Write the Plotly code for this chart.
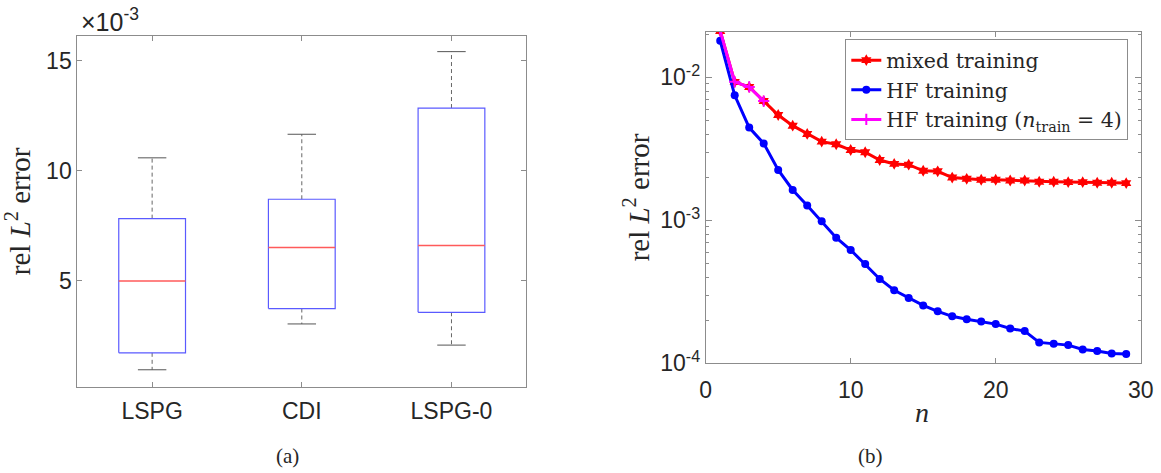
import plotly.graph_objects as go

# ---------------- data ----------------
# (a) box-plot statistics, values in units of 1e-3
methods = ["LSPG", "CDI", "LSPG-0"]
whisker_low = [0.97, 3.05, 2.09]
q1 = [1.74, 3.75, 3.58]
median = [5.00, 6.52, 6.61]
q3 = [7.83, 8.71, 12.85]
whisker_high = [10.59, 11.66, 15.41]

# (b) convergence curves
n = list(range(1, 30))
mixed_training = [0.0211, 0.00928, 0.00856, 0.00682, 0.00545, 0.00459, 0.00402, 0.00355,
                  0.00340, 0.00310, 0.00299, 0.00264, 0.00248, 0.00245, 0.00222, 0.00220,
                  0.00199, 0.00195, 0.00192, 0.00192, 0.00190, 0.00190, 0.00186, 0.00186,
                  0.00185, 0.00185, 0.00183, 0.00183, 0.00182]
hf_training = [0.0180, 0.00748, 0.00445, 0.00345, 0.00225, 0.00163, 0.00127, 0.000984,
               0.000756, 0.000620, 0.000495, 0.000389, 0.000324, 0.000286, 0.000254,
               0.000231, 0.000213, 0.000203, 0.000196, 0.000188, 0.000175, 0.000168,
               0.000140, 0.000137, 0.000134, 0.000125, 0.000122, 0.000117, 0.000116]
n_train4 = [1, 2, 3, 4]
hf_training_4 = [0.0211, 0.00930, 0.00856, 0.00682]

# ---------------- style constants ----------------
W, H = 1161, 473
BOX_W = 0.446
CAP_W = 0.19
AX_COL = "#8c8c8c"
TXT_COL = "#262626"
SANS = "Liberation Sans, Arial, sans-serif"
SERIF = "Liberation Serif, Times New Roman, serif"
LEG_SERIF = "DejaVu Serif, serif"

def px_x(p):
    return p / W

def px_y(p):
    return (H - p) / H

fig = go.Figure()

# ---- box plot built from the statistics ----
pos = list(range(1, len(methods) + 1))
bx, by, mx, my, wx, wy, cx, cy = [], [], [], [], [], [], [], []
for i, p in enumerate(pos):
    l, r = p - BOX_W / 2, p + BOX_W / 2
    bx += [l, r, r, l, l, None]
    by += [q1[i], q1[i], q3[i], q3[i], q1[i], None]
    mx += [l, r, None]
    my += [median[i], median[i], None]
    wx += [p, p, None, p, p, None]
    wy += [q3[i], whisker_high[i], None, q1[i], whisker_low[i], None]
    cl, cr = p - CAP_W / 2, p + CAP_W / 2
    cx += [cl, cr, None, cl, cr, None]
    cy += [whisker_high[i], whisker_high[i], None, whisker_low[i], whisker_low[i], None]

fig.add_trace(go.Scatter(x=wx, y=wy, mode="lines", line=dict(color="#666666", width=1, dash="4px,3px"),
                         showlegend=False, hoverinfo="skip", xaxis="x", yaxis="y"))
fig.add_trace(go.Scatter(x=cx, y=cy, mode="lines", line=dict(color="#555555", width=1),
                         showlegend=False, hoverinfo="skip", xaxis="x", yaxis="y"))
fig.add_trace(go.Scatter(x=bx, y=by, mode="lines", line=dict(color="#5a5aff", width=1.2),
                         showlegend=False, hoverinfo="skip", xaxis="x", yaxis="y"))
fig.add_trace(go.Scatter(x=mx, y=my, mode="lines", line=dict(color="#ff5a5a", width=1.4),
                         showlegend=False, hoverinfo="skip", xaxis="x", yaxis="y"))

# ---- convergence curves ----
fig.add_trace(go.Scatter(x=n, y=mixed_training, mode="lines+markers", name="mixed training",
                         line=dict(color="#ff0000", width=3),
                         marker=dict(symbol="hexagram", size=9, color="#ff0000"),
                         xaxis="x2", yaxis="y2"))
fig.add_trace(go.Scatter(x=n, y=hf_training, mode="lines+markers", name="HF training",
                         line=dict(color="#0000ff", width=3),
                         marker=dict(symbol="circle", size=8, color="#0000ff"),
                         xaxis="x2", yaxis="y2"))
fig.add_trace(go.Scatter(x=n_train4, y=hf_training_4, mode="lines+markers",
                         name="HF training (<i>n</i><sub>train</sub> = 4)",
                         line=dict(color="#ff00ff", width=3),
                         marker=dict(symbol="cross-thin", size=8, color="#ff00ff",
                                     line=dict(color="#ff00ff", width=2)),
                         xaxis="x2", yaxis="y2"))

axis_common = dict(showline=True, linecolor=AX_COL, linewidth=1, mirror="ticks",
                   ticks="inside", tickcolor=AX_COL, showgrid=False, zeroline=False,
                   automargin=False,
                   tickfont=dict(family=SANS, size=23, color=TXT_COL))

fig.update_layout(
    width=W, height=H,
    margin=dict(l=0, r=0, t=0, b=0, autoexpand=False),
    paper_bgcolor="white", plot_bgcolor="white",
    xaxis=dict(domain=[px_x(77.3), px_x(526.3)], range=[0.5, 3.5],
               tickvals=pos, ticktext=methods, ticklen=5, ticklabelstandoff=4,
               anchor="y", **axis_common),
    yaxis=dict(domain=[px_y(386.7), px_y(36)], range=[0.202, 16.12],
               tickvals=[5, 10, 15], ticklen=5, anchor="x",
               title=dict(text="rel <i>L</i><sup>2</sup> error", font=dict(family=SERIF, size=29, color=TXT_COL),
                          standoff=6),
               **axis_common),
    xaxis2=dict(domain=[px_x(705.7), px_x(1140.7)], range=[0, 30],
                tickvals=[0, 10, 20, 30], ticklen=5, anchor="y2", ticklabelstandoff=6,
                **axis_common),
    yaxis2=dict(domain=[px_y(363.3), px_y(31.7)], type="log", range=[-4, -1.681],
                tickvals=[1e-4, 1e-3, 1e-2],
                ticktext=["10<sup>-4</sup>", "10<sup>-3</sup>", "10<sup>-2</sup>"],
                ticklen=6, anchor="x2",
                minor=dict(ticks="inside", ticklen=3, tickcolor=AX_COL,
                           tickvals=[k * 10 ** e for e in (-4, -3, -2) for k in range(2, 10)
                                     if k * 10 ** e < 0.0208]),
                title=dict(text="rel <i>L</i><sup>2</sup> error", font=dict(family=SERIF, size=29, color=TXT_COL),
                           standoff=2),
                **axis_common),
    legend=dict(x=px_x(845.3), y=px_y(39.3), xanchor="left", yanchor="top",
                bgcolor="white", bordercolor="#8c8c8c", borderwidth=1,
                font=dict(family=LEG_SERIF, size=20.5, color=TXT_COL),
                itemwidth=30, tracegroupgap=0),
    showlegend=True,
)

fig.add_annotation(x=px_x(79), y=px_y(20), xref="paper", yref="paper", xanchor="left", yanchor="middle",
                   text="×10<sup>-3</sup>", showarrow=False, font=dict(family=SANS, size=25, color=TXT_COL))
fig.add_annotation(x=px_x(922), y=px_y(412), xref="paper", yref="paper", xanchor="center", yanchor="middle",
                   text="<i>n</i>", showarrow=False, font=dict(family=SERIF, size=28, color=TXT_COL))
fig.add_annotation(x=px_x(287), y=px_y(456), xref="paper", yref="paper", xanchor="center", yanchor="middle",
                   text="(a)", showarrow=False, font=dict(family=SERIF, size=21, color=TXT_COL))
fig.add_annotation(x=px_x(870), y=px_y(456), xref="paper", yref="paper", xanchor="center", yanchor="middle",
                   text="(b)", showarrow=False, font=dict(family=SERIF, size=21, color=TXT_COL))

fig.write_html("out.html")
